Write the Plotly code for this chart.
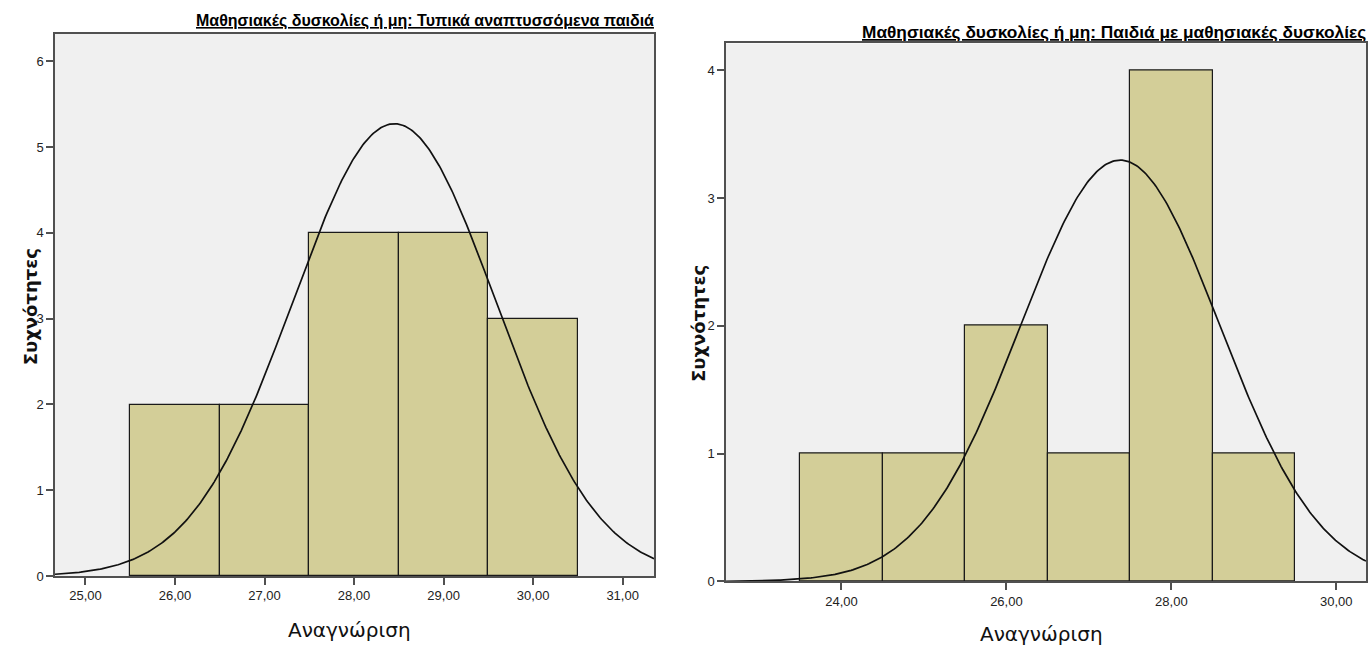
import numpy as np
import plotly.graph_objects as go

# ---------------- data ----------------
x_title = "Αναγνώριση"
y_title = "Συχνότητες"

left_title = "Μαθησιακές δυσκολίες ή μη: Τυπικά αναπτυσσόμενα παιδιά"
left_bin_centers = [26, 27, 28, 29, 30]
left_counts = [2, 2, 4, 4, 3]
left_mean = 28.45
left_sd = 1.135
left_xticks = [25, 26, 27, 28, 29, 30, 31]
left_xticktext = ["25,00", "26,00", "27,00", "28,00", "29,00", "30,00", "31,00"]
left_yticks = [0, 1, 2, 3, 4, 5, 6]

right_title = "Μαθησιακές δυσκολίες ή μη: Παιδιά με μαθησιακές δυσκολίες"
right_bin_centers = [24, 25, 26, 27, 28, 29]
right_counts = [1, 1, 2, 1, 4, 1]
right_mean = 27.38
right_sd = 1.21
right_xticks = [24, 26, 28, 30]
right_xticktext = ["24,00", "26,00", "28,00", "30,00"]
right_yticks = [0, 1, 2, 3, 4]

bin_width = 1.0

# ---------------- layout constants ----------------
W, H = 1371, 664
BAR_FILL = "#D3CE98"
PLOT_BG = "#F0F0F0"
AXIS_COL = "#505050"
TICK_FONT = dict(family="Liberation Sans, Arial, sans-serif", size=13, color="#222222")


def px_x(p):
    return p / W


def px_y(p):
    return (H - p) / H


def normal_curve(xmin, xmax, mean, sd, n):
    xs = np.linspace(xmin, xmax, 400)
    ys = n * bin_width / (sd * np.sqrt(2 * np.pi)) * np.exp(-0.5 * ((xs - mean) / sd) ** 2)
    return xs, ys


fig = go.Figure()

panels = [
    dict(centers=left_bin_centers, counts=left_counts, mean=left_mean, sd=left_sd,
         xr=[24.66, 31.35], yr=[0, 6.32], xdom=[55, 654], ydom=[583, 34.3],
         xticks=left_xticks, xtt=left_xticktext, yticks=left_yticks, ax=""),
    dict(centers=right_bin_centers, counts=right_counts, mean=right_mean, sd=right_sd,
         xr=[22.60, 30.36], yr=[0, 4.21], xdom=[726, 1366], ydom=[588.5, 44],
         xticks=right_xticks, xtt=right_xticktext, yticks=right_yticks, ax="2"),
]

for p in panels:
    xa = "x" + p["ax"]
    ya = "y" + p["ax"]
    fig.add_trace(go.Bar(
        x=p["centers"], y=p["counts"], width=bin_width,
        marker=dict(color=BAR_FILL, line=dict(color="#1a1a1a", width=1.2)),
        xaxis=xa, yaxis=ya, showlegend=False, hoverinfo="x+y",
    ))
    n = sum(p["counts"])
    xs, ys = normal_curve(p["xr"][0], p["xr"][1], p["mean"], p["sd"], n)
    fig.add_trace(go.Scatter(
        x=xs, y=ys, mode="lines", line=dict(color="#111111", width=1.7),
        xaxis=xa, yaxis=ya, showlegend=False, hoverinfo="skip",
    ))
    common = dict(showline=True, mirror=True, linecolor=AXIS_COL, linewidth=1.5,
                  ticks="outside", ticklen=7, tickwidth=1.5, tickcolor=AXIS_COL,
                  showgrid=False, zeroline=False, tickfont=TICK_FONT, fixedrange=True)
    fig.layout["xaxis" + p["ax"]] = dict(
        domain=[px_x(p["xdom"][0]), px_x(p["xdom"][1])], range=p["xr"],
        tickvals=p["xticks"], ticktext=p["xtt"], anchor=ya, **common)
    fig.layout["yaxis" + p["ax"]] = dict(
        domain=[px_y(p["ydom"][0]), px_y(p["ydom"][1])], range=p["yr"],
        tickvals=p["yticks"], ticktext=[str(v) for v in p["yticks"]], anchor=xa, **common)

TITLE_FONT_L = dict(family="Liberation Sans, Arial, sans-serif", size=16, color="#000000")
TITLE_FONT_R = dict(family="Liberation Sans, Arial, sans-serif", size=17.3, color="#000000")
XT_FONT = dict(family="DejaVu Sans, sans-serif", size=20, color="#111111")
YT_FONT = dict(family="DejaVu Sans, sans-serif", size=18, color="#111111")

annotations = [
    dict(text="<b><u>" + left_title + "</u></b>", x=px_x(656), y=px_y(21),
         xanchor="right", yanchor="middle", font=TITLE_FONT_L),
    dict(text="<b><u>" + right_title + "</u></b>", x=px_x(1368), y=px_y(32),
         xanchor="right", yanchor="middle", font=TITLE_FONT_R),
    dict(text=x_title, x=px_x(349), y=px_y(638), xanchor="center", yanchor="middle", font=XT_FONT),
    dict(text=x_title, x=px_x(1041), y=px_y(642), xanchor="center", yanchor="middle", font=XT_FONT),
    dict(text="<b>" + y_title + "</b>", x=px_x(30), y=px_y(311), textangle=-90,
         xanchor="center", yanchor="middle", font=YT_FONT),
    dict(text="<b>" + y_title + "</b>", x=px_x(698), y=px_y(328), textangle=-90,
         xanchor="center", yanchor="middle", font=YT_FONT),
]
for a in annotations:
    a.update(xref="paper", yref="paper", showarrow=False)

fig.update_layout(
    width=W, height=H, margin=dict(l=0, r=0, t=0, b=0),
    paper_bgcolor="#FFFFFF", plot_bgcolor=PLOT_BG,
    annotations=annotations, bargap=0, showlegend=False,
)

fig.write_html("out.html", config={"displayModeBar": False})
